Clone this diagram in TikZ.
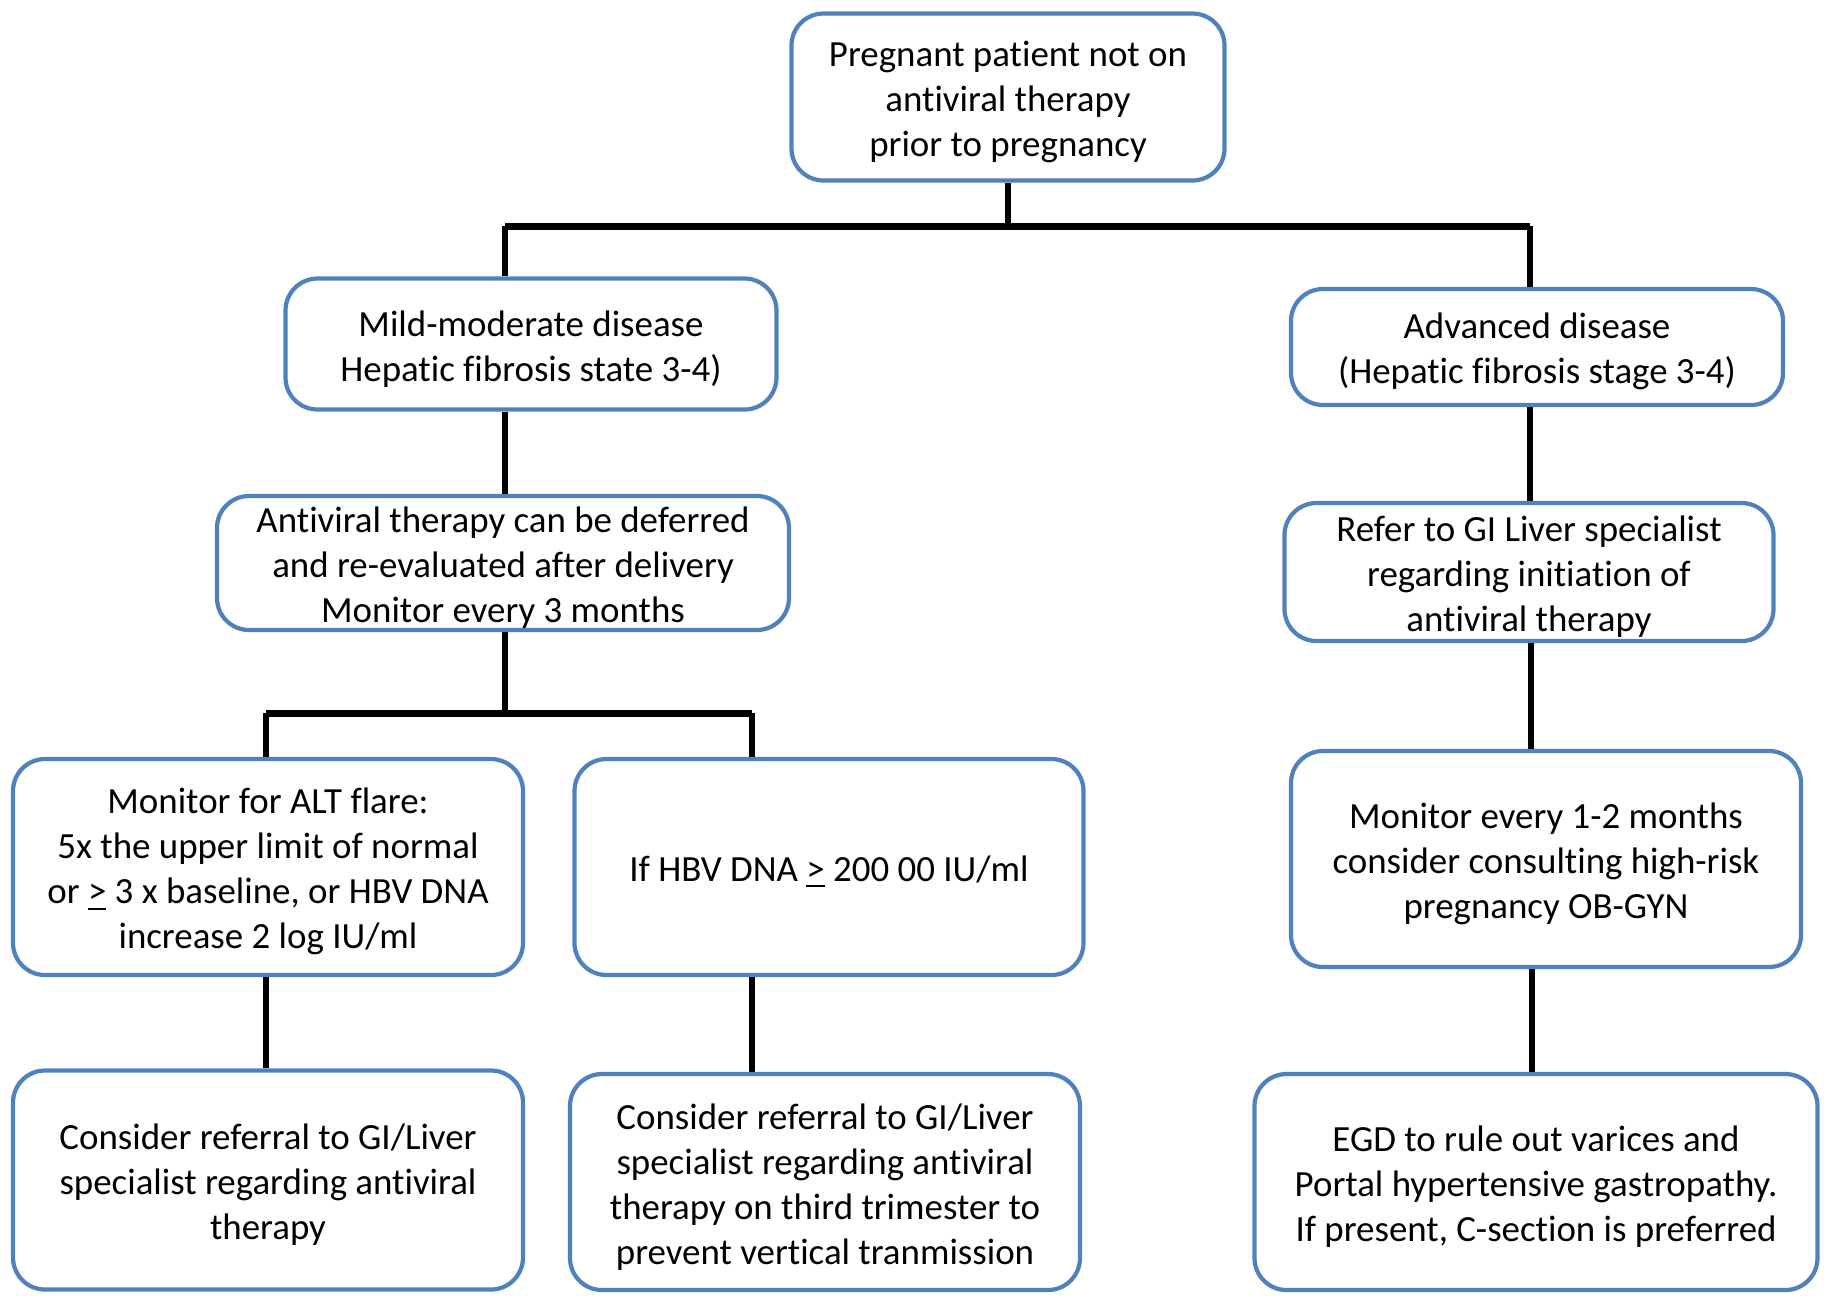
\documentclass[tikz,border=0pt]{standalone}
\usepackage{fontspec}
\setmainfont[Ligatures=NoCommon]{Carlito}
\usepackage{tikz}
\usetikzlibrary{calc}

\definecolor{boxblue}{RGB}{79,129,189}
\newcommand{\tstrut}{\rule{0pt}{10pt}}

\begin{document}
\begin{tikzpicture}[
  every node/.style={font=\fontsize{10.5}{12.8}\selectfont},
  flowbox/.style={rectangle, draw=boxblue, line width=1.2pt, fill=white,
    rounded corners=0.32cm, align=center, inner xsep=2pt, inner ysep=0pt},
  link/.style={line width=1.5pt, black},
  bus/.style={line width=2pt, black},
]
\useasboundingbox (0,0) rectangle (18.29,-12.95);

% Top
\node[flowbox, minimum width=4.33cm, minimum height=1.67cm] (start) at (10.08,-0.97)
  {\tstrut Pregnant patient not on\\antiviral therapy\\prior to pregnancy};

% Left branch
\node[flowbox, minimum width=4.91cm, minimum height=1.31cm] (mild) at (5.31,-3.44)
  {\tstrut Mild-moderate disease\\Hepatic fibrosis state 3-4)};
\node[flowbox, minimum width=5.72cm, minimum height=1.34cm] (defer) at (5.03,-5.63)
  {\tstrut Antiviral therapy can be deferred\\and re-evaluated after delivery\\Monitor every 3 months};
\node[flowbox, minimum width=5.10cm, minimum height=2.16cm] (alt) at (2.68,-8.67)
  {\tstrut Monitor for ALT flare:\\5x the upper limit of normal\\or \underline{>} 3 x baseline, or HBV DNA\\increase 2 log IU/ml};
\node[flowbox, minimum width=5.09cm, minimum height=2.16cm] (hbv) at (8.29,-8.67)
  {\tstrut If HBV DNA \underline{>} 200 00 IU/ml};
\node[flowbox, minimum width=5.10cm, minimum height=2.19cm] (refalt) at (2.68,-11.80)
  {\tstrut Consider referral to GI/Liver\\specialist regarding antiviral\\therapy};
\node[flowbox, minimum width=5.10cm, minimum height=2.16cm] (refhbv) at (8.25,-11.82)
  {\tstrut Consider referral to GI/Liver\\specialist regarding antiviral\\therapy on third trimester to\\prevent vertical tranmission};

% Right branch
\node[flowbox, minimum width=4.92cm, minimum height=1.16cm] (adv) at (15.37,-3.47)
  {\tstrut Advanced disease\\(Hepatic fibrosis stage 3-4)};
\node[flowbox, minimum width=4.89cm, minimum height=1.38cm] (refer) at (15.29,-5.72)
  {\tstrut Refer to GI Liver specialist\\regarding initiation of\\antiviral therapy};
\node[flowbox, minimum width=5.10cm, minimum height=2.16cm] (monitor) at (15.46,-8.59)
  {\tstrut Monitor every 1-2 months\\consider consulting high-risk\\pregnancy OB-GYN};
\node[flowbox, minimum width=5.63cm, minimum height=2.16cm] (egd) at (15.36,-11.82)
  {\tstrut EGD to rule out varices and\\Portal hypertensive gastropathy.\\If present, C-section is preferred};

% Connectors
\coordinate (topL) at (5.05,-2.26);
\coordinate (topR) at (15.30,-2.26);
\coordinate (midL) at (2.66,-7.13);
\coordinate (midR) at (7.52,-7.13);

\draw[link] (start.south) -- (start.south |- topL);
\draw[bus] (topL) -- (topR);
\draw[link] (topL) -- (topL |- mild.north);
\draw[link] (topR) -- (topR |- adv.north);

\draw[link] (topL |- mild.south) -- (topL |- defer.north);
\draw[link] (topL |- defer.south) -- (topL |- midL);
\draw[bus] (midL) -- (midR);
\draw[link] (midL) -- (midL |- alt.north);
\draw[link] (midR) -- (midR |- hbv.north);
\draw[link] (midL |- alt.south) -- (midL |- refalt.north);
\draw[link] (midR |- hbv.south) -- (midR |- refhbv.north);

\draw[link] (topR |- adv.south) -- (topR |- refer.north);
\draw[link] ($(topR |- refer.south)+(0.01,0)$) -- ($(topR |- monitor.north)+(0.01,0)$);
\draw[link] ($(topR |- monitor.south)+(0.02,0)$) -- ($(topR |- egd.north)+(0.02,0)$);

\end{tikzpicture}
\end{document}
